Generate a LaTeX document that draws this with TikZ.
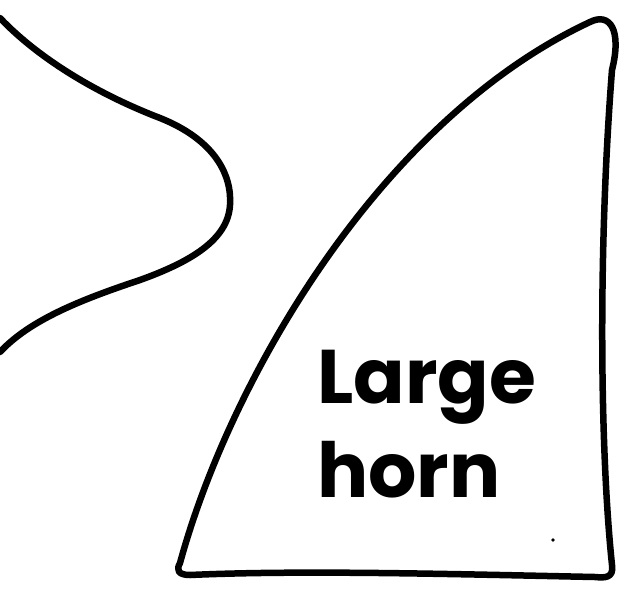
\documentclass[tikz,border=0pt]{standalone}
\usepackage{fontspec}
\newfontfamily\popfont{Poppins}
\begin{document}
\begin{tikzpicture}[x=1pt,y=-1pt,
  outline/.style={line width=6.5pt,line cap=round,line join=round,black},
  label/.style={font=\popfont\bfseries\fontsize{76}{90}\selectfont,inner sep=0pt,anchor=base west}]
\useasboundingbox (0,0) rectangle (622,590);
% left lobe
\coordinate (lt) at (0,18);
\coordinate (lb) at (0,352);
\draw[outline] (lt) .. controls (40,60) and (100,95) .. (160,118)
  .. controls (215,140) and (232,175) .. (230,205)
  .. controls (228,240) and (190,262) .. (140,280)
  .. controls (80,300) and (30,320) .. (lb);
% horn
\draw[outline] (180,563) .. controls (230,380) and (380,120) .. (590,22)
  .. controls (610,12) and (622,30) .. (612,70)
  .. controls (598,250) and (600,450) .. (612,565)
  .. controls (614,578) and (605,578) .. (595,577)
  .. controls (450,574) and (300,570) .. (190,575)
  .. controls (178,575) and (176,570) .. cycle;
\node[label] (l1) at (317,403) {Large};
\node[label] (l2) at (317,497) {horn};
\fill (553,540) circle (1.8pt);
\end{tikzpicture}
\end{document}
